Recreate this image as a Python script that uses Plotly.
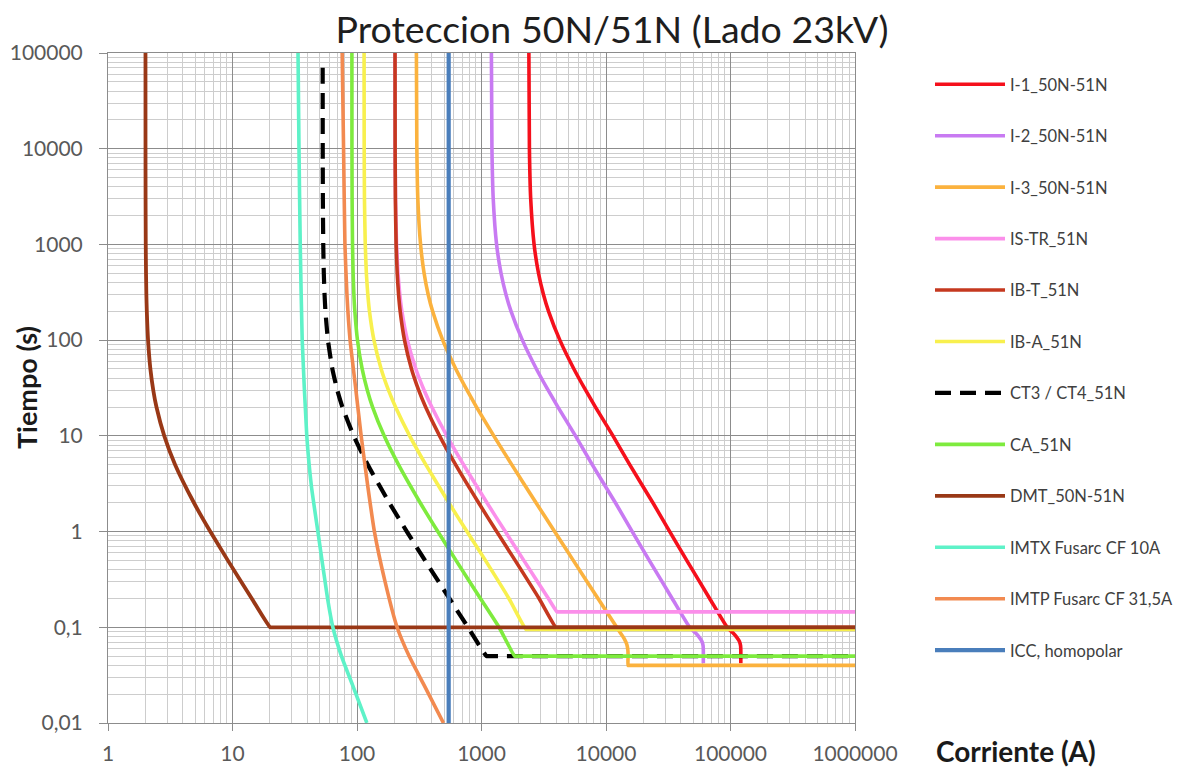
import plotly.graph_objects as go

# ---------------- data ----------------
names = ["I-1_50N-51N", "I-2_50N-51N", "I-3_50N-51N", "IS-TR_51N", "IB-T_51N",
         "IB-A_51N", "CT3 / CT4_51N", "CA_51N", "DMT_50N-51N",
         "IMTX Fusarc CF 10A", "IMTP Fusarc CF 31,5A", "ICC, homopolar"]

t_std = [1e5, 1e4, 3000, 1000, 500, 300, 200, 100, 50, 30, 20, 10, 5, 2, 1, 0.5, 0.2]

i1_x = [2402, 2426, 2484, 2645, 2870, 3145, 3457, 4260, 5525, 6860, 8227, 11380, 15500, 23800, 32500, 44500, 68000,
        94000, 104000, 112000, 118000, 120500, 121000, 121000]
i1_y = t_std + [0.1, 0.088, 0.079, 0.071, 0.064, 0.057, 0.042]

i2_x = [1201, 1213, 1242, 1322, 1435, 1572, 1728, 2130, 2762, 3430, 4113, 5690, 7750, 11900, 16250, 22250, 34000,
        47000, 52000, 56000, 59000, 60250, 60500, 60500]
i2_y = t_std + [0.1, 0.088, 0.079, 0.071, 0.064, 0.057, 0.042]

i3_x = [300, 302.5, 308, 324, 346, 373, 405, 488, 622, 765, 912, 1255, 1749, 2741, 3865, 5458, 8622,
        12190, 13070, 14000, 14700, 15000, 15050, 15050, 15500, 1000000]
i3_y = t_std + [0.1, 0.087, 0.076, 0.066, 0.057, 0.05, 0.04, 0.04, 0.04]

istr_x = [202, 202.6, 203.9, 207.8, 213.4, 220.7, 229.4, 253.9, 296.9, 346, 399, 526.8, 717, 1106, 1552, 2185, 3446,
          4045, 4150, 1000000]
istr_y = t_std + [0.145, 0.145, 0.145]

ibt_x = [202, 202.4, 203.4, 206.2, 210.3, 215.7, 222.2, 240.7, 274, 312.9, 355.7, 460.6, 619, 947.6, 1324, 1862, 2900,
         3950, 4050, 1000000]
ibt_y = t_std + [0.1, 0.1, 0.1]

iba_x = [114, 114.25, 114.8, 116.5, 118.9, 122.1, 125.9, 136.8, 156.3, 179, 203.9, 264.9, 356.9, 546.7, 764.7, 1075, 1660,
         2280, 2380, 1000000]
iba_y = t_std + [0.095, 0.095, 0.095]

ct_x = [53, 53.06, 53.19, 53.57, 54.13, 54.87, 55.78, 58.42, 63.38, 69.44, 76.34, 94.07, 122.0, 181.7, 251.4, 351.6, 552.1,
        779, 1100, 1150, 1000000]
ct_y = [7e4] + t_std[1:] + [0.1, 0.05, 0.05, 0.05]

ca_x = [91, 91.1, 91.35, 92.05, 93.07, 94.4, 96.1, 100.9, 110, 121, 133.4, 165.3, 215.4, 321.7, 445.8, 623.9, 980,
        1383, 1850, 1930, 1000000]
ca_y = t_std + [0.1, 0.05, 0.05, 0.05]

dmt_x = [2, 2.001, 2.0033, 2.01, 2.02, 2.033, 2.05, 2.098, 2.19, 2.31, 2.45, 2.83, 3.46, 4.9, 6.63, 9.17, 14.28,
         20.1, 21, 1000000]
dmt_y = t_std + [0.1, 0.1, 0.1]

imtx_x = [33.6, 34.2, 35.0, 36.3, 39.5, 43, 48.5, 58, 64, 75, 92, 120]
imtx_y = [1e5, 1e4, 1000, 100, 10, 3, 1, 0.2, 0.1, 0.05, 0.025, 0.01]

imtp_x = [76, 78, 80, 83, 88, 98, 108, 122, 138, 168, 210, 262, 345, 495]
imtp_y = [1e5, 1e4, 1000, 300, 100, 30, 10, 3, 1, 0.3, 0.1, 0.05, 0.025, 0.01]

icc_x = [545, 545]
icc_y = [0.01, 1e5]

xs = [i1_x, i2_x, i3_x, istr_x, ibt_x, iba_x, ct_x, ca_x, dmt_x, imtx_x, imtp_x, icc_x]
ys = [i1_y, i2_y, i3_y, istr_y, ibt_y, iba_y, ct_y, ca_y, dmt_y, imtx_y, imtp_y, icc_y]

colors = ["#F5101C", "#C87AF2", "#FBB23E", "#FB8FEA", "#C5381F", "#F8F04E",
          "#000000", "#7EEB3E", "#993816", "#5EF2C8", "#F28A50", "#4A7EBB"]
widths = [3.6, 3.6, 3.6, 3.6, 3.6, 3.6, 4.2, 3.6, 3.8, 3.6, 3.6, 4.2]
dashes = ["solid"] * 6 + ["16px,9px"] + ["solid"] * 5

x_tickvals = [1, 10, 100, 1000, 10000, 100000, 1000000]
x_ticktext = ["1", "10", "100", "1000", "10000", "100000", "1000000"]
y_tickvals = [0.01, 0.1, 1, 10, 100, 1000, 10000, 100000]
y_ticktext = ["0,01", "0,1", "1", "10", "100", "1000", "10000", "100000"]

# ---------------- figure ----------------
fig = go.Figure()
for i, (n, x, y, c, w, d) in enumerate(zip(names, xs, ys, colors, widths, dashes)):
    fig.add_trace(go.Scatter(
        x=x, y=y, name=n, mode="lines",
        line=dict(color=c, width=w, dash=d, shape="spline", smoothing=0.5),
        legendgroup=f"g{i}",
    ))

major = "#8c8c8c"
minor = "#cdcdcd"
tickfont = dict(family="Lato", size=21, color="#595959")

fig.update_xaxes(type="log", range=[0, 6], tickvals=x_tickvals, ticktext=x_ticktext,
                 showgrid=True, gridcolor=major, gridwidth=1,
                 minor=dict(dtick="D1", showgrid=True, gridcolor=minor, gridwidth=1),
                 showline=True, linecolor=major, mirror=True,
                 ticks="outside", ticklen=7, tickcolor=major, ticklabelstandoff=5,
                 tickfont=tickfont, zeroline=False, automargin=False)
fig.update_yaxes(type="log", range=[-2, 5], tickvals=y_tickvals, ticktext=y_ticktext,
                 showgrid=True, gridcolor=major, gridwidth=1,
                 minor=dict(dtick="D1", showgrid=True, gridcolor=minor, gridwidth=1),
                 showline=True, linecolor=major, mirror=True,
                 ticks="outside", ticklen=8, tickcolor=major, ticklabelstandoff=12,
                 tickfont=tickfont, zeroline=False, automargin=False)

fig.update_layout(
    width=1184, height=768,
    margin=dict(l=108, r=329, t=53, b=45, autoexpand=False),
    paper_bgcolor="white", plot_bgcolor="white",
    title=dict(text="Proteccion 50N/51N (Lado 23kV)", x=612 / 1184, xanchor="center",
               y=1 - 30 / 768, yanchor="middle",
               font=dict(family="Lato", size=37.5, color="#1e1e1e")),
    legend=dict(x=(930 - 108) / 747, xanchor="left", y=(723 - 67) / 670, yanchor="top",
                font=dict(family="Lato", size=16.5, color="#404040"),
                itemwidth=70, tracegroupgap=27.0, bgcolor="rgba(0,0,0,0)"),
    annotations=[
        dict(text="<b>Corriente (A)</b>", xref="paper", yref="paper",
             x=(934 - 108) / 747, y=-(751 - 723) / 670, xanchor="left", yanchor="middle",
             showarrow=False, font=dict(family="Lato", size=28, color="#1a1a1a")),
        dict(text="<b>Tiempo (s)</b>", xref="paper", yref="paper",
             x=-(108 - 26) / 747, y=(723 - 388) / 670, xanchor="center", yanchor="middle",
             textangle=-90, showarrow=False, font=dict(family="Lato", size=27, color="#1a1a1a")),
    ],
)

fig.write_html("out.html")
